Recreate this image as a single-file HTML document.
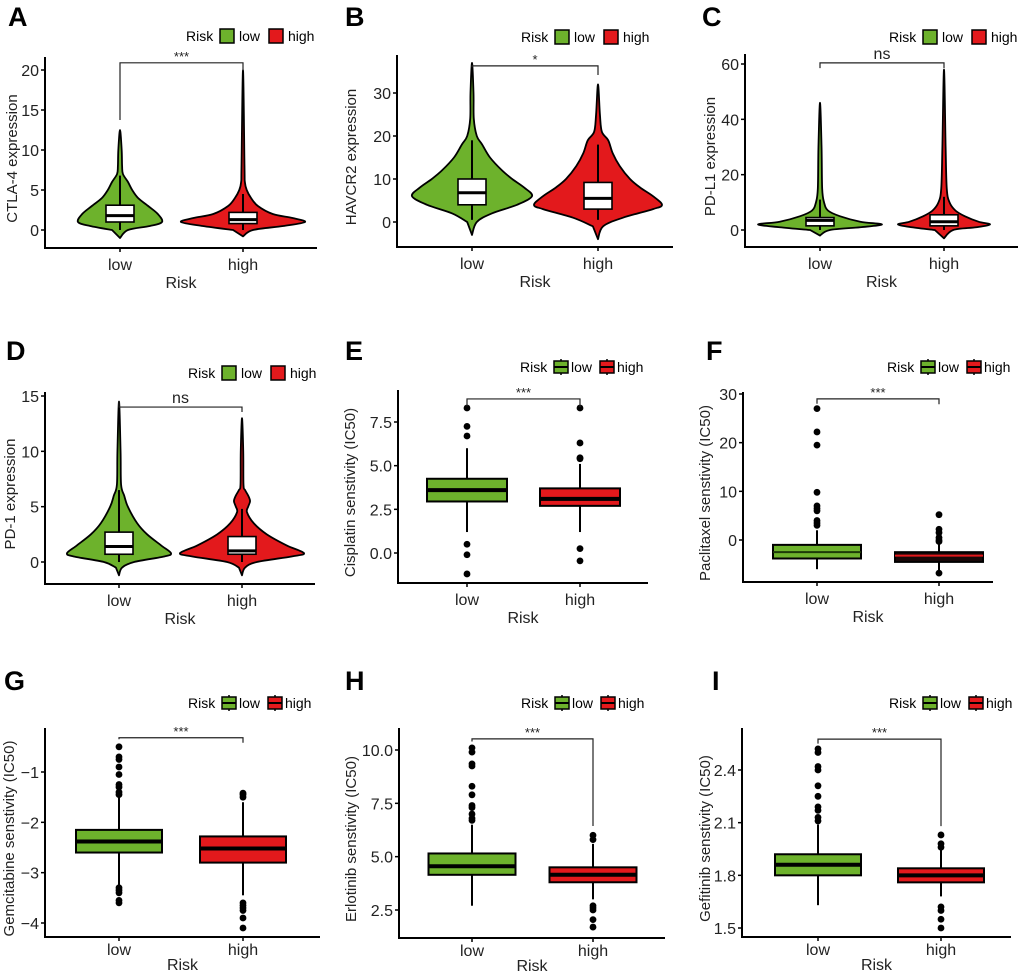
<!DOCTYPE html>
<html><head><meta charset="utf-8">
<style>
html,body{margin:0;padding:0;background:#fff;}
svg{display:block;font-family:"Liberation Sans",sans-serif;}
</style></head>
<body>
<svg id="fig" width="1020" height="974" viewBox="0 0 1020 974" xmlns="http://www.w3.org/2000/svg"></svg>
<script>
// ===== Data =====
const groups = ["low","high"];
// Panel A CTLA-4 (violin)
const ticksA = [0,5,10,15,20];
const vyA_low = [-1,0,0.5,1,2,3,4,5,6,7,8,10,12.5];
const vdA_low = [0,0.19,0.71,1,0.9,0.67,0.43,0.29,0.19,0.07,0.05,0.04,0];
const vyA_high = [-0.8,0,0.5,1,1.5,2,3,4,5,6,8,20];
const vdA_high = [0,0.16,0.65,1,0.8,0.48,0.24,0.13,0.06,0.03,0.024,0];
const boxA_low = [1,1.8,3.1,0,6.8];
const boxA_high = [0.8,1.3,2.2,0,4.5];
// Panel B HAVCR2
const ticksB = [0,10,20,30];
const vyB_low = [-3,0,2,4,6,8,10,12,15,18,20,24,30,37];
const vdB_low = [0,0.08,0.33,0.75,1,0.87,0.67,0.5,0.3,0.17,0.08,0.03,0.025,0];
const vyB_high = [-4,-1,1,3,4,6,8,10,13,16,19,21,25,32];
const vdB_high = [0,0.08,0.39,0.86,1,0.86,0.66,0.5,0.34,0.23,0.16,0.06,0.03,0];
const boxB_low = [4,6.8,10,0.5,19];
const boxB_high = [3,5.5,9.2,0.5,18];
// Panel C PD-L1
const ticksC = [0,20,40,60];
const vyC_low = [-2,0,1,2,3,5,7,10,15,30,46];
const vdC_low = [0,0.16,0.65,1,0.65,0.32,0.13,0.065,0.035,0.025,0];
const vyC_high = [-3,0,1,2,3,5,7,10,15,30,58];
const vdC_high = [0,0.2,0.7,1,0.75,0.45,0.25,0.12,0.06,0.035,0];
const boxC_low = [1.5,3.5,4.5,0,11];
const boxC_high = [1.5,3,5.5,0,12];
// Panel D PD-1
const ticksD = [0,5,10,15];
const vyD_low = [-1.2,-0.5,0,0.5,0.8,1.5,2.5,3.5,5,6,7,10,14.5];
const vdD_low = [0,0.06,0.29,0.87,1,0.81,0.54,0.35,0.17,0.1,0.04,0.03,0];
const vyD_high = [-1.2,-0.5,0,0.5,0.8,1.5,2.5,3.5,4.5,5,5.5,6,6.5,7,10,13];
const vdD_high = [0,0.05,0.24,0.8,1,0.72,0.4,0.19,0.08,0.1,0.13,0.1,0.05,0.024,0.02,0];
const boxD_low = [0.7,1.4,2.7,0,6.5];
const boxD_high = [0.7,1.0,2.3,0,4.8];
// Panel E Cisplatin (box: q1, median, q3, whiskerLow, whiskerHigh)
const ticksE = [0,2.5,5,7.5];
const boxE_low = [2.95,3.6,4.25,1.2,6.0];
const boxE_high = [2.7,3.1,3.7,1.2,5.1];
const outE_low = [8.3,7.25,6.7,0.5,-0.1,-1.2];
const outE_high = [8.3,6.3,5.45,5.4,0.25,-0.45];
// Panel F Paclitaxel
const ticksF = [0,10,20,30];
const boxF_low = [-3.8,-2.5,-1,-6,2];
const boxF_high = [-4.5,-3.2,-2.5,-6.5,0];
const outF_low = [27,22.2,19.5,9.8,7,6.5,6,4,3.5,3];
const outF_high = [5.2,2.2,1.5,0.5,0,-0.3,-6.8];
// Panel G Gemcitabine
const ticksG = [-4,-3,-2,-1];
const boxG_low = [-2.6,-2.38,-2.15,-3.25,-1.5];
const boxG_high = [-2.8,-2.52,-2.28,-3.45,-1.6];
const outG_low = [-0.5,-0.7,-0.75,-0.9,-1.05,-1.25,-1.3,-1.4,-1.45,-3.3,-3.35,-3.4,-3.55,-3.6];
const outG_high = [-1.42,-1.45,-1.5,-3.6,-3.65,-3.7,-3.75,-3.9,-4.1];
// Panel H Erlotinib
const ticksH = [2.5,5,7.5,10];
const boxH_low = [4.15,4.55,5.15,2.7,6.5];
const boxH_high = [3.8,4.15,4.5,3.0,5.6];
const outH_low = [10.1,9.9,9.35,9.25,8.3,7.9,7.4,7.3,7.0,6.8,6.7];
const outH_high = [6.0,5.8,2.7,2.6,2.5,2.05,1.7];
// Panel I Gefitinib
const ticksI = [1.5,1.8,2.1,2.4];
const boxI_low = [1.80,1.86,1.92,1.63,2.09];
const boxI_high = [1.76,1.80,1.84,1.68,1.98];
const outI_low = [2.52,2.50,2.42,2.40,2.31,2.25,2.19,2.17,2.13,2.11];
const outI_high = [2.03,1.98,1.96,1.62,1.60,1.55,1.50];

const GREEN="#6db22c", RED="#e3191c";
const NS="http://www.w3.org/2000/svg";
const svg=document.getElementById('fig');
function el(tag,attrs,parent){const e=document.createElementNS(NS,tag);for(const k in attrs)e.setAttribute(k,attrs[k]);(parent||svg).appendChild(e);return e;}
function txt(s,attrs,parent){const e=el('text',attrs,parent);e.textContent=s;return e;}
function smoothPath(pts){
  let d=`M${pts[0][0]},${pts[0][1]}`;
  const n=pts.length;
  for(let i=0;i<n-1;i++){
    const p0=pts[Math.max(0,i-1)],p1=pts[i],p2=pts[i+1],p3=pts[Math.min(n-1,i+2)];
    const c1=[p1[0]+(p2[0]-p0[0])/6,p1[1]+(p2[1]-p0[1])/6];
    const c2=[p2[0]-(p3[0]-p1[0])/6,p2[1]-(p3[1]-p1[1])/6];
    d+=` C${c1[0]},${c1[1]} ${c2[0]},${c2[1]} ${p2[0]},${p2[1]}`;
  }
  return d+'Z';
}

function panel(p){
  const g=el('g',{});
  
  
  const y=v=>p.ref[1]+(v-p.ref[0])*(p.ref[3]-p.ref[1])/(p.ref[2]-p.ref[0]);
  const xs=[p.xLow,p.xHigh];
  const lt=txt(p.letter,{x:p.lx,y:p.ly,'font-size':27,'font-weight':'bold'},g);
  
  
  // legend
  const lg=el('g',{},g);
  
  
  let lx=p.legX;
  txt('Risk',{x:lx,y:p.legY+5,'font-size':14},lg);
  lx+=34;
  [[GREEN,'low'],[RED,'high']].forEach(([c,l])=>{
    const k=el('g',{},lg);
    
    
    if(p.type==='violin'){
      el('rect',{x:lx,y:p.legY-7,width:14,height:14,fill:c,stroke:'#000','stroke-width':1.5},k);
      txt(l,{x:lx+19,y:p.legY+5,'font-size':14},k);
      lx+=19+(l==='low'?30:0);
    } else {
      el('line',{x1:lx+7,x2:lx+7,y1:p.legY-8,y2:p.legY+8,stroke:'#000','stroke-width':1.5},k);
      el('rect',{x:lx,y:p.legY-6,width:14,height:12,fill:c,stroke:'#000','stroke-width':1.5},k);
      el('line',{x1:lx,x2:lx+14,y1:p.legY,y2:p.legY,stroke:'#000','stroke-width':2},k);
      txt(l,{x:lx+17,y:p.legY+5,'font-size':14},k);
      lx+=17+(l==='low'?29:0);
    }
  });
  // axes
  const ax=el('g',{},g);
  
  
  el('path',{d:`M${p.ax},${p.top} V${p.bottom} H${p.right}`,fill:'none',stroke:'#000','stroke-width':2},ax);
  p.ticks.forEach(t=>{
    const ty=y(t);
    el('line',{x1:p.ax-4,x2:p.ax,y1:ty,y2:ty,stroke:'#000','stroke-width':1.5},ax);
    const lab=txt(String(p.fmt?t.toFixed(p.fmt):t).replace('-','\u2212'),{x:p.ax-6,y:ty+6,'font-size':16,'text-anchor':'end',fill:'#222'},ax);
    
    
  });
  const xo=p.bottom>900?18:22, to=p.bottom>900?33:40;
  xs.forEach((x,i)=>{
    el('line',{x1:x,x2:x,y1:p.bottom,y2:p.bottom+4,stroke:'#000','stroke-width':1.5},ax);
    const lab=txt(groups[i],{x:x,y:p.bottom+xo,'font-size':16,'text-anchor':'middle',fill:'#222'},ax);
    
    
  });
  const xt=txt('Risk',{x:(p.ax+p.right)/2,y:p.bottom+to,'font-size':16,'text-anchor':'middle',fill:'#222'},ax);
  
  
  const yc=(p.top+p.bottom)/2+6;
  const yt=txt(p.ytitle,{x:p.ytx,y:yc,'font-size':15,'text-anchor':'middle',fill:'#222',transform:`rotate(-90 ${p.ytx} ${yc})`},ax);
  
  
  // marks
  const cols=[GREEN,RED];
  [0,1].forEach(i=>{
    const x=xs[i], b=p.box[i];
    const mg=el('g',{},g);
    
    
    if(p.type==='violin'){
      const vy=p.vy[i], vd=p.vd[i], w=p.vw[i];
      const pts=[];
      for(let k=0;k<vy.length;k++) pts.push([x+vd[k]*w,y(vy[k])]);
      for(let k=vy.length-2;k>0;k--) pts.push([x-vd[k]*w,y(vy[k])]);
      const v=el('path',{d:smoothPath(pts),fill:cols[i],stroke:'#000','stroke-width':1.8,'stroke-linejoin':'round'},mg);
      
      
      el('line',{x1:x,x2:x,y1:y(b[3]),y2:y(b[4]),stroke:'#000','stroke-width':2},mg);
      const r=el('rect',{x:x-14,y:y(b[2]),width:28,height:y(b[0])-y(b[2]),fill:'#fff',stroke:'#000','stroke-width':1.6},mg);
      
      
      el('line',{x1:x-14,x2:x+14,y1:y(b[1]),y2:y(b[1]),stroke:'#000','stroke-width':3},mg);
    } else {
      el('line',{x1:x,x2:x,y1:y(b[3]),y2:y(b[4]),stroke:'#000','stroke-width':2},mg);
      const hw=p.bw/2;
      const r=el('rect',{x:x-hw,y:y(b[2]),width:2*hw,height:y(b[0])-y(b[2]),fill:p.boxFill?p.boxFill[i]:cols[i],stroke:'#000','stroke-width':2},mg);
      
      
      el('line',{x1:x-hw,x2:x+hw,y1:y(b[1]),y2:y(b[1]),stroke:p.medCol?p.medCol[i]:'#000','stroke-width':p.medW||4},mg);
      p.out[i].forEach(o=>{
        const c=el('circle',{cx:x,cy:y(o),r:3.4,fill:'#000'},mg);
        
        
      });
    }
  });
  // significance bracket
  const sg=el('g',{},g);
  
  
  const by=y(p.br[0]);
  el('path',{d:`M${xs[0]},${y(p.br[1])} V${by} H${xs[1]} V${y(p.br[2])}`,fill:'none',stroke:'#222','stroke-width':1.2},sg);
  txt(p.sig,{x:(xs[0]+xs[1])/2,y:p.sig==='ns'?by-4:by-2,'font-size':p.sig==='ns'?16:13,'text-anchor':'middle',fill:'#222'},sg);
}

panel({letter:'A',lx:8,ly:26,legX:186,legY:36,type:'violin',ax:45,top:57,bottom:248,right:317,ref:[0,230,20,70],ticks:ticksA,xLow:120,xHigh:243,ytitle:'CTLA-4 expression',ytx:17,vy:[vyA_low,vyA_high],vd:[vdA_low,vdA_high],vw:[42,62],box:[boxA_low,boxA_high],br:[20.9,13.75,20],sig:'***'});
panel({letter:'B',lx:345,ly:26,legX:521,legY:37,type:'violin',ax:397,top:55,bottom:247,right:673,ref:[0,222,30,93],ticks:ticksB,xLow:472,xHigh:598,ytitle:'HAVCR2 expression',ytx:356,vy:[vyB_low,vyB_high],vd:[vdB_low,vdB_high],vw:[60,64],box:[boxB_low,boxB_high],br:[36.3,36,34.2],sig:'*'});
panel({letter:'C',lx:702,ly:26,legX:889,legY:37,type:'violin',ax:745,top:54,bottom:247,right:1018,ref:[0,230,60,64],ticks:ticksC,xLow:820,xHigh:944,ytitle:'PD-L1 expression',ytx:715,vy:[vyC_low,vyC_high],vd:[vdC_low,vdC_high],vw:[62,46],box:[boxC_low,boxC_high],br:[60.4,58.5,58.5],sig:'ns'});
panel({letter:'D',lx:6,ly:360,legX:188,legY:373,type:'violin',ax:45,top:392,bottom:584,right:315,ref:[0,562,15,396],ticks:ticksD,xLow:119,xHigh:242,ytitle:'PD-1 expression',ytx:15,vy:[vyD_low,vyD_high],vd:[vdD_low,vdD_high],vw:[52,62],box:[boxD_low,boxD_high],br:[14,14.5,13.55],sig:'ns'});
panel({letter:'E',lx:345,ly:360,legX:520,legY:367,type:'box',bw:80,ax:398,top:390,bottom:583,right:648,ref:[0,553,7.5,422],ticks:ticksE,fmt:1,xLow:467,xHigh:580,ytitle:'Cisplatin senstivity (IC50)',ytx:355,box:[boxE_low,boxE_high],out:[outE_low,outE_high],br:[8.82,8.4,8.36],sig:'***'});
panel({letter:'F',lx:706,ly:360,legX:887,legY:367,type:'box',bw:88,ax:743,top:392,bottom:582,right:993,ref:[0,540,30,394],ticks:ticksF,xLow:817,xHigh:939,ytitle:'Paclitaxel senstivity (IC50)',ytx:710,box:[boxF_low,boxF_high],out:[outF_low,outF_high],boxFill:[GREEN,'#1a0808'],medCol:['#1d3a08',RED],medW:2,br:[29,28,27.9],sig:'***'});
panel({letter:'G',lx:4,ly:690,legX:188,legY:703,type:'box',bw:86,ax:45,top:728,bottom:937,right:320,ref:[-1,772,-4,923],ticks:ticksG,xLow:119,xHigh:243,ytitle:'Gemcitabine senstivity (IC50)',ytx:14,box:[boxG_low,boxG_high],out:[outG_low,outG_high],br:[-0.32,-0.35,-0.42],sig:'***'});
panel({letter:'H',lx:345,ly:690,legX:521,legY:703,type:'box',bw:87,ax:399,top:728,bottom:938,right:665,ref:[2.5,910,10,750],ticks:ticksH,fmt:1,xLow:472,xHigh:593,ytitle:'Erlotinib senstivity (IC50)',ytx:356,box:[boxH_low,boxH_high],out:[outH_low,outH_high],br:[10.52,10.4,6.44],sig:'***'});
panel({letter:'I',lx:712,ly:690,legX:889,legY:703,type:'box',bw:86,ax:742,top:728,bottom:937,right:1011,ref:[1.5,928,2.4,770],ticks:ticksI,fmt:1,xLow:818,xHigh:941,ytitle:'Gefitinib senstivity (IC50)',ytx:710,box:[boxI_low,boxI_high],out:[outI_low,outI_high],br:[2.576,2.55,2.08],sig:'***'});
</script>
</body></html>
